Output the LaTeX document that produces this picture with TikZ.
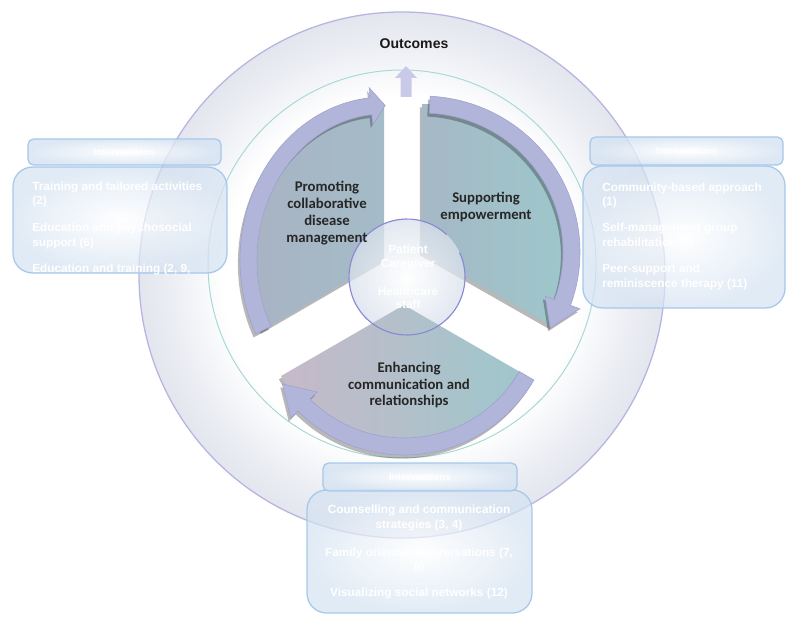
\documentclass[tikz,border=0pt]{standalone}
\usepackage{fontspec}
\setmainfont{Liberation Sans}
\newfontfamily\calibri{Carlito}
\usetikzlibrary{calc}

\definecolor{ringgray}{HTML}{E3E6EE}
\definecolor{ringline}{HTML}{B8B4DF}
\definecolor{tealline}{HTML}{A8D9D5}
\definecolor{arrowcol}{HTML}{C9CAE7}
\definecolor{bandcol}{HTML}{B2B5DA}
\definecolor{bandedge}{HTML}{9EA1CD}
\definecolor{secgrey}{HTML}{A9B3C4}
\definecolor{secteal}{HTML}{9DC7CB}
\definecolor{secmauve}{HTML}{C7B9C9}
\definecolor{secmid}{HTML}{AABFC8}
\definecolor{circline}{HTML}{8B87D6}
\definecolor{boxline}{HTML}{A7C8EA}
\definecolor{boxfill}{HTML}{D5E3F2}
\definecolor{hubedge}{HTML}{D9E1EC}

\pgfdeclareradialshading{ringglow}{\pgfpoint{0bp}{0bp}}{color(0bp)=(white); color(17bp)=(white); color(22bp)=(ringgray!70!white); color(25bp)=(ringgray); color(50bp)=(ringgray)}

\tikzset{
  band/.style={fill=bandcol, draw=bandedge, line width=0.4pt},
  secshadow/.style={preaction={fill=black, fill opacity=0.28, transform canvas={shift={(-1.5pt,-2.4pt)}}}},
  sectext/.style={align=center, inner sep=0pt, text=black!85, font=\calibri\bfseries\fontsize{10.5}{12}\selectfont},
  hubtext/.style={align=center, inner sep=0pt, text=white, font=\bfseries\fontsize{8.4}{9.8}\selectfont},
  headbox/.style={draw=boxline, line width=0.9pt, rounded corners=4pt, inner color=white, outer color=boxfill,
    fill opacity=0.8, text opacity=1, text=white, font=\bfseries\fontsize{7}{8}\selectfont},
  bodybox/.style={draw=boxline, line width=0.9pt, rounded corners=14pt, inner color=white, outer color=boxfill, fill opacity=0.7},
  itemtext/.style={inner sep=0pt, text=white, font=\bfseries\fontsize{8.4}{10.5}\selectfont}
}

\begin{document}
\begin{tikzpicture}[x=0.025cm, y=0.025cm]
  \useasboundingbox (0,0) rectangle (800,627);
  \fill[white] (0,0) rectangle (800,627);

  % rings
  \shade[shading=ringglow] (402,352) circle (263);
  \draw[ringline, line width=0.9pt] (402,352) circle (263);
  \draw[tealline, line width=0.7pt] (402,363) circle (194);

  % arrow to outcomes
  \fill[arrowcol] (400.5,530) -- (400.5,549) -- (395,549) -- (406,561) -- (417,549) -- (411.5,549) -- (411.5,530) -- cycle;

  % left part
  \begin{scope}[shift={(384,367)}]
    \shade[secshadow, left color=secgrey, right color=secgrey!55!secteal]
      (0,0) -- (90:136 and 155) arc[start angle=90, end angle=207, x radius=136, y radius=155] -- cycle;
    \filldraw[band, secshadow] (207:144 and 163) arc[start angle=207, end angle=95.5, x radius=144, y radius=163]
      -- (95.5:154 and 173) -- (89.5:135.5 and 154.5) -- (95.5:117 and 136) -- (95.5:127 and 146)
      arc[start angle=95.5, end angle=207, x radius=127, y radius=146] -- cycle;
  \end{scope}

  % right part
  \begin{scope}[shift={(422,375)}]
    \shade[secshadow, left color=secgrey!70!secteal, right color=secteal]
      (0,0) -- (90:150 and 148) arc[start angle=90, end angle=-30, x radius=150, y radius=148] -- cycle;
    \filldraw[band, secshadow] (87:158 and 156) arc[start angle=87, end angle=-20, x radius=158, y radius=156]
      -- (-20:168 and 166) -- (-31:149.5 and 147.5) -- (-20:131 and 129) -- (-20:141 and 139)
      arc[start angle=-20, end angle=87, x radius=141, y radius=139] -- cycle;
  \end{scope}

  % hub
  \shade[inner color=white, outer color=hubedge, fill opacity=0.75] (407,350) circle (58);

  % bottom part
  \begin{scope}[shift={(404,322)}]
    \shade[secshadow, left color=secmauve, middle color=secmid, right color=secteal]
      (0,0) -- (-30:142) arc[start angle=-30, end angle=-150, radius=142] -- cycle;
    \filldraw[band, secshadow] (-30:150) arc[start angle=-30, end angle=-135, radius=150]
      -- (-135:160) -- (-147:145) -- (-135:123) -- (-135:133)
      arc[start angle=-135, end angle=-30, radius=133] -- cycle;
  \end{scope}

  \draw[circline, line width=0.8pt] (407,350) ++(47:58) arc[start angle=47, end angle=385, radius=58];

  % labels of the wheel
  \node[sectext] (promoting) at (327,414) {Promoting\\collaborative\\disease\\management};
  \node[sectext] (supporting) at (486,420) {Supporting\\empowerment};
  \node[sectext] (enhancing) at (409,242) {Enhancing\\communication and\\relationships};
  \node[hubtext] (people) at (408,350) {Patient\\Caregiver\\\&\\Healthcare\\staff};
  \node[font=\bfseries\fontsize{10}{12}\selectfont, text=black!90] (outcomes) at (414,583) {Outcomes};

  % left interventions
  \shadedraw[bodybox] (13,354) rectangle (227,460);
  \node[headbox, minimum width=4.825cm, minimum height=0.65cm] (lefthead) at (124.5,475) {Interventions};
  \node[itemtext, align=left, anchor=west] (ltrain) at (32,432.5) {Training and tailored activities\\(2)};
  \node[itemtext, align=left, anchor=west] (leduc) at (32,391) {Education and psychosocial\\support (6)};
  \begin{scope}
    \clip (0,343) rectangle (240,460);
    \node[itemtext, align=left, anchor=west] (ledtrain) at (32,350) {Education and training (2, 9,\\10)};
  \end{scope}

  % right interventions
  \shadedraw[bodybox] (583,319) rectangle (785,461);
  \node[headbox, minimum width=4.825cm, minimum height=0.7cm] (righthead) at (686.5,476) {Interventions};
  \node[itemtext, align=left, anchor=west] (rcomm) at (602,431.5) {Community-based approach\\(1)};
  \node[itemtext, align=left, anchor=west] (rself) at (602,391) {Self-management group\\rehabilitation (5)};
  \node[itemtext, align=left, anchor=west] (rpeer) at (602,350) {Peer-support and\\reminiscence therapy (11)};

  % bottom interventions
  \shadedraw[bodybox] (307,14) rectangle (532,137);
  \node[headbox, minimum width=4.85cm, minimum height=0.7cm] (bottomhead) at (420,150) {Interventions};
  \node[itemtext, align=center] (bcouns) at (419,109) {Counselling and communication\\strategies (3, 4)};
  \node[itemtext, align=center] (bfamily) at (419,66.5) {Family oriented conversations (7,\\8)};
  \node[itemtext, align=center] (bvisual) at (419,34) {Visualizing social networks (12)};
\end{tikzpicture}
\end{document}
